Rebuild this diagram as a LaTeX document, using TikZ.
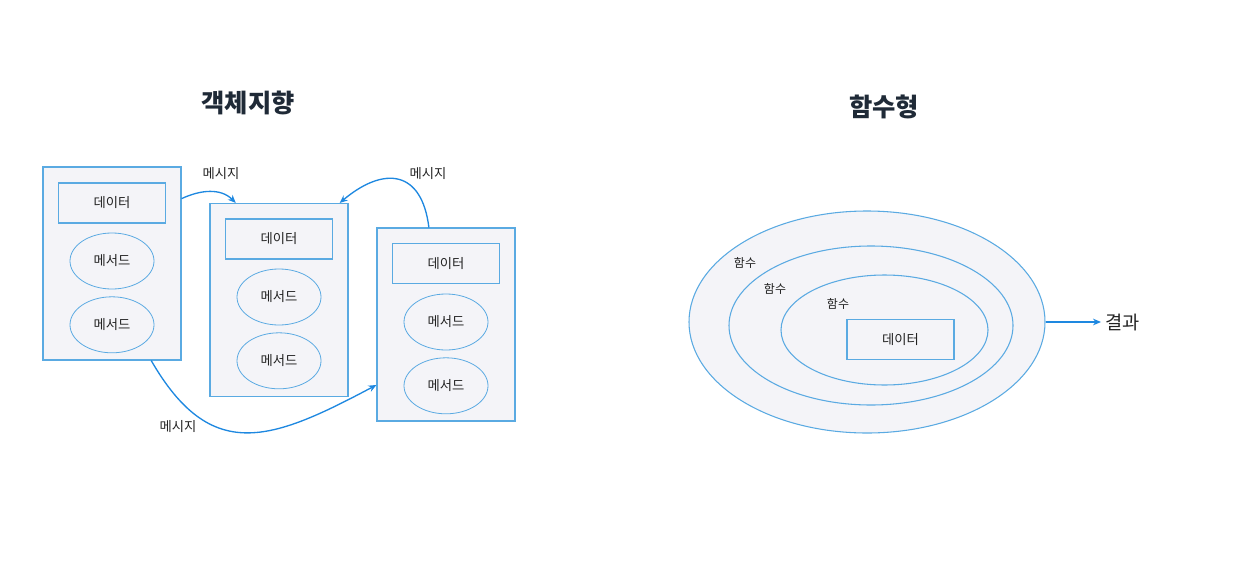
\documentclass[tikz,border=0pt]{standalone}
\usepackage{fontspec}
\setmainfont{Noto Sans CJK KR}
\usetikzlibrary{positioning,shapes.geometric,arrows.meta}
\definecolor{edge}{HTML}{5AAAE2}
\definecolor{msgblue}{HTML}{1E88E0}
\definecolor{panel}{HTML}{F4F4F8}
\definecolor{ink}{HTML}{222222}
\definecolor{head}{HTML}{1F2A37}
\tikzset{
  obj/.style={draw=edge,fill=panel,line width=0.8pt,minimum width=138*0.75pt,minimum height=193*0.75pt},
  data/.style={draw=edge,fill=panel,line width=0.8pt,minimum width=107*0.75pt,minimum height=40*0.75pt,font=\fontsize{10}{12}\selectfont,text=ink},
  meth/.style={ellipse,draw=edge,fill=panel,line width=0.6pt,minimum width=84*0.75pt,minimum height=56*0.75pt,font=\fontsize{10}{12}\selectfont,text=ink},
  ring/.style={ellipse,draw=edge,fill=panel,line width=0.8pt},
  msg/.style={draw=msgblue,line width=1pt,-{Stealth[length=6pt,width=5pt]}},
  lbl/.style={font=\fontsize{10}{12}\selectfont,text=ink},
  title/.style={font=\fontsize{19}{23}\selectfont\bfseries,text=head}
}
\begin{document}
\begin{tikzpicture}[x=0.75pt,y=-0.75pt]
        \useasboundingbox (0,0) rectangle (1245,571);
        % object-oriented side
        \node[title] (T1) at (248,103) {객체지향};
        \node[obj] (A) at (112,263.5) {};
        \node[data] (A0) at (112,203) {데이터};
        \node[meth] (A1) at (112,261) {메서드};
        \node[meth] (A2) [below=7*0.75pt of A1] {메서드};
        \node[obj] (B) at (279,300) {};
        \node[data] (B0) at (279,239) {데이터};
        \node[meth] (B1) at (279,297) {메서드};
        \node[meth] (B2) [below=7*0.75pt of B1] {메서드};
        \node[obj] (C) at (446,324.5) {};
        \node[data] (C0) at (446,263.5) {데이터};
        \node[meth] (C1) at (446,322) {메서드};
        \node[meth] (C2) [below=7*0.75pt of C1] {메서드};
        \node[lbl] (M1) at (221,174) {메시지};
        \node[lbl] (M2) at (428,174) {메시지};
        \node[lbl] (M3) at (178,427) {메시지};
        \draw[msg] (A.43) to[out=25,in=135] (B.114);
        \draw[msg] (C.100) to[out=97,in=40,looseness=1.6] (B.58);
        \draw[msg] (A.-68) to[out=-60,in=208,looseness=1.35] (C.221);
        % functional side
        \node[title] (T2) at (884,107) {함수형};
        \node[ring,minimum width=356*0.75pt,minimum height=222*0.75pt] (F1) at (867,322) {};
        \node[ring,minimum width=284*0.75pt,minimum height=159*0.75pt] (F2) at (871,325.5) {};
        \node[ring,minimum width=207*0.75pt,minimum height=110*0.75pt] (F3) at (884.5,330) {};
        \node[data] (D) at (900.5,339.5) {데이터};
        \node[lbl,font=\fontsize{9}{11}\selectfont] at (745,263) {함수};
        \node[lbl,font=\fontsize{9}{11}\selectfont] at (775,289) {함수};
        \node[lbl,font=\fontsize{9}{11}\selectfont] at (838,304) {함수};
        \node[text=ink,font=\fontsize{14}{16}\selectfont,anchor=west] (R) at (1101,323) {결과};
        \draw[msg,line width=0.8pt] (F1.east) -- (F1.east -| R.west);
    \end{tikzpicture}
\end{document}
